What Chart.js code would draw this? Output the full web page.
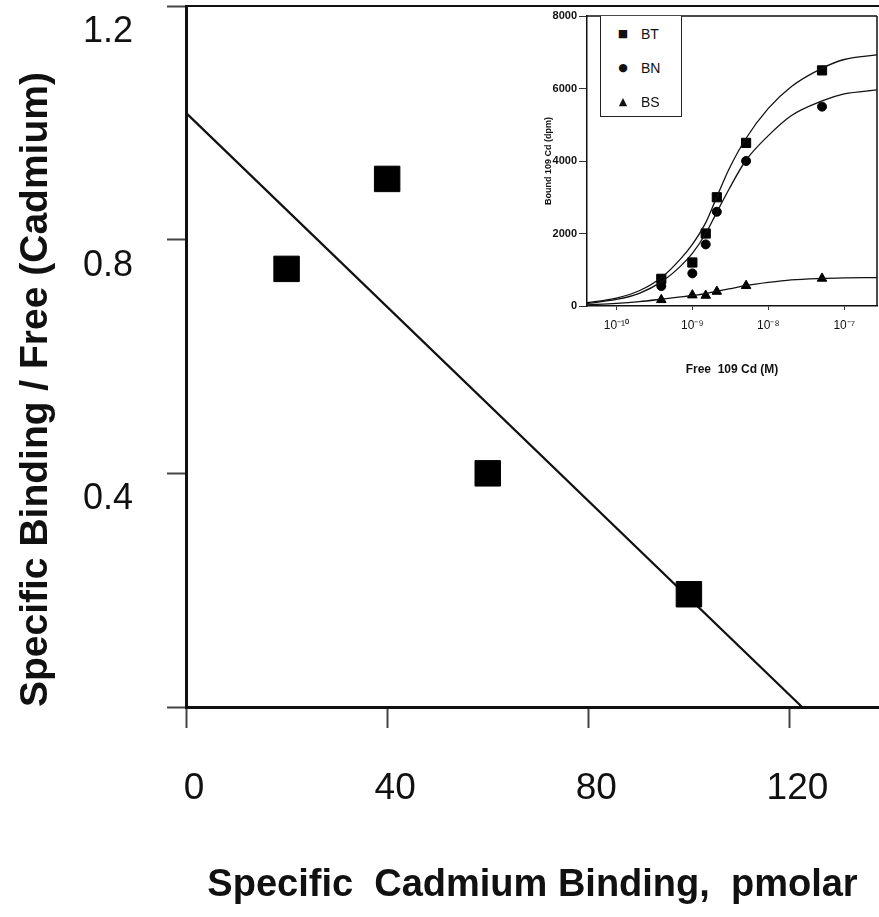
<!DOCTYPE html>
<html>
<head>
<meta charset="utf-8">
<title>Scatchard plot - cadmium binding</title>
<script src="https://cdn.jsdelivr.net/npm/chart.js@4/dist/chart.umd.min.js"></script>
<style>
    html, body { margin: 0; padding: 0; background: #fff; }
    #wrap { position: relative; width: 879px; height: 917px; overflow: hidden; }
    #mainChart { position: absolute; left: 0; top: 0; }
    #insetChart { position: absolute; left: 540px; top: 8px; }
    #insetLegend {
        position: absolute; left: 600px; top: 16px; width: 80px; height: 100px;
        border: 1px solid #222; border-top: none; background: #fff;
        font-family: 'Liberation Sans', Arial, sans-serif; font-size: 14px; color: #111;
    }
    .legend-row { position: absolute; left: 0; height: 34px; line-height: 34px; width: 80px; }
    .legend-mark { position: absolute; left: 14px; width: 16px; text-align: center; font-family: 'DejaVu Sans', sans-serif; font-size: 11px; }
    .legend-text { position: absolute; left: 40px; }
</style>
</head>
<body>
<div id="wrap">
    <canvas id="mainChart" width="879" height="917"></canvas>
    <canvas id="insetChart" width="339" height="372"></canvas>
    <div id="insetLegend"></div>
</div>
<script>
// main plot: bound/free vs bound
const bindingX = [20, 40, 60, 100];
const boundFreeY = [0.75, 0.904, 0.40, 0.193];
const fitLineX = [0, 122.5, 137.8];
const fitLineY = [1.017, 0, 0];
const mainTicksX = [0, 40, 80, 120];
const mainTicksY = [0, 0.4, 0.8, 1.2];

// inset: saturation curves
const insetSeries = ['BT', 'BN', 'BS'];
const insetMarks = ['■', '●', '▲'];
const freeCd = [3.9e-10, 1.0e-9, 1.5e-9, 2.1e-9, 5.1e-9, 5.1e-8];
const boundBT = [750, 1200, 2000, 3000, 4500, 6500];
const boundBN = [550, 900, 1700, 2600, 4000, 5500];
const boundBS = [170, 300, 290, 400, 560, 760];
const curveX = [4.1e-11, 1e-10, 2e-10, 4e-10, 7e-10, 1e-9, 1.5e-9, 2e-9, 3e-9, 5e-9, 1e-8, 2e-8, 5e-8, 1e-7, 2.7e-7];
const curveBT = [90, 220, 420, 800, 1300, 1700, 2300, 2900, 3750, 4600, 5450, 6050, 6550, 6800, 6930];
const curveBN = [70, 180, 350, 680, 1100, 1450, 2000, 2500, 3200, 4000, 4700, 5250, 5650, 5850, 5960];
const curveBS = [30, 70, 120, 190, 250, 290, 340, 400, 470, 560, 650, 720, 760, 775, 785];
const insetTicksX = [1e-10, 1e-9, 1e-8, 1e-7];
const insetTickLabels = ['10⁻¹⁰', '10⁻⁹', '10⁻⁸', '10⁻⁷'];
const insetTicksY = [0, 2000, 4000, 6000, 8000];

const FONT = "'Liberation Sans', Arial, sans-serif";
const INK = '#111';

function toPoints(xs, ys) {
    return xs.map((x, i) => ({ x: x, y: ys[i] }));
}

// draws the remaining sides of the plot frame
const frameLines = {
    id: 'frameLines',
    afterDatasetsDraw(chart, args, opts) {
        const { ctx, chartArea: a } = chart;
        ctx.save();
        ctx.strokeStyle = opts.color || INK;
        ctx.lineWidth = opts.width || 1;
        ctx.beginPath();
        if (opts.top) { ctx.moveTo(a.left, a.top); ctx.lineTo(a.right, a.top); }
        if (opts.right) { ctx.moveTo(a.right, a.top); ctx.lineTo(a.right, a.bottom); }
        ctx.stroke();
        ctx.restore();
    }
};

new Chart(document.getElementById('mainChart'), {
    type: 'scatter',
    data: {
        datasets: [{
            label: 'Bound / Free',
            data: toPoints(bindingX, boundFreeY),
            pointStyle: 'rect',
            pointRadius: 18,
            backgroundColor: '#000',
            borderColor: '#000',
            borderWidth: 1
        }, {
            label: 'Fit',
            data: toPoints(fitLineX, fitLineY),
            showLine: true,
            borderColor: INK,
            borderWidth: 2.2,
            pointRadius: 0,
            tension: 0
        }]
    },
    options: {
        responsive: false,
        animation: false,
        layout: { autoPadding: false, padding: { top: 6, right: 0, bottom: 0, left: 0 } },
        plugins: {
            legend: { display: false },
            tooltip: { enabled: false },
            frameLines: { top: true, width: 2, color: INK }
        },
        scales: {
            x: {
                type: 'linear',
                min: 0,
                max: 137.8,
                afterBuildTicks: s => { s.ticks = mainTicksX.map(v => ({ value: v })); },
                afterFit: s => { s.height = 210; s.paddingLeft = 0; s.paddingRight = 0; },
                grid: { drawOnChartArea: false, tickLength: 21, tickWidth: 2, tickColor: '#444' },
                border: { color: INK, width: 3 },
                ticks: { padding: 39, labelOffset: 8, color: INK, font: { family: FONT, size: 37 }, maxRotation: 0, autoSkip: false },
                title: {
                    display: true,
                    text: 'Specific  Cadmium Binding,  pmolar',
                    color: INK,
                    font: { family: FONT, size: 38, weight: 'bold' },
                    padding: { top: 0, bottom: 9 }
                }
            },
            y: {
                type: 'linear',
                min: 0,
                max: 1.2,
                afterBuildTicks: s => { s.ticks = mainTicksY.map(v => ({ value: v })); },
                afterFit: s => { s.width = 186; s.paddingTop = 0; s.paddingBottom = 0; },
                grid: { drawOnChartArea: false, tickLength: 19, tickWidth: 2, tickColor: '#444' },
                border: { color: INK, width: 3 },
                ticks: {
                    padding: 34,
                    labelOffset: 26,
                    color: INK,
                    font: { family: FONT, size: 36 },
                    callback: v => (v === 0 ? '' : v.toFixed(1))
                },
                title: {
                    display: true,
                    text: 'Specific Binding / Free (Cadmium)',
                    align: 'start',
                    color: INK,
                    font: { family: FONT, size: 39, weight: 'bold' },
                    padding: { top: 13, bottom: 0 }
                }
            }
        }
    },
    plugins: [frameLines]
});

const curveStyle = {
    showLine: true,
    pointRadius: 0,
    borderColor: INK,
    borderWidth: 1.3,
    cubicInterpolationMode: 'monotone'
};
const markStyle = {
    backgroundColor: '#000',
    borderColor: '#000',
    borderWidth: 1
};

new Chart(document.getElementById('insetChart'), {
    type: 'scatter',
    data: {
        datasets: [
            Object.assign({ label: 'BT fit', data: toPoints(curveX, curveBT) }, curveStyle),
            Object.assign({ label: 'BN fit', data: toPoints(curveX, curveBN) }, curveStyle),
            Object.assign({ label: 'BS fit', data: toPoints(curveX, curveBS) }, curveStyle),
            Object.assign({ label: 'BT', data: toPoints(freeCd, boundBT), pointStyle: 'rect', pointRadius: 6.5 }, markStyle),
            Object.assign({ label: 'BN', data: toPoints(freeCd, boundBN), pointStyle: 'circle', pointRadius: 4.5 }, markStyle),
            Object.assign({ label: 'BS', data: toPoints(freeCd, boundBS), pointStyle: 'triangle', pointRadius: 5.5 }, markStyle)
        ]
    },
    options: {
        responsive: false,
        animation: false,
        layout: { autoPadding: false, padding: { top: 8, right: 2, bottom: 0, left: 0 } },
        plugins: {
            legend: { display: false },
            tooltip: { enabled: false },
            frameLines: { top: true, right: true, width: 1.5, color: INK }
        },
        scales: {
            x: {
                type: 'logarithmic',
                min: 4.1e-11,
                max: 2.7e-7,
                afterBuildTicks: s => { s.ticks = insetTicksX.map(v => ({ value: v })); },
                afterFit: s => { s.height = 74; s.paddingLeft = 0; s.paddingRight = 0; },
                grid: { drawOnChartArea: false, tickLength: 4, tickWidth: 1, tickColor: '#333' },
                border: { color: INK, width: 1.5 },
                ticks: {
                    padding: 8,
                    color: INK,
                    font: { family: FONT, size: 12 },
                    maxRotation: 0,
                    autoSkip: false,
                    callback: (v, i) => insetTickLabels[i]
                },
                title: {
                    display: true,
                    text: 'Free  109 Cd (M)',
                    color: INK,
                    font: { family: FONT, size: 12, weight: 'bold' },
                    padding: { top: 0, bottom: 3 }
                }
            },
            y: {
                type: 'linear',
                min: 0,
                max: 8000,
                afterBuildTicks: s => { s.ticks = insetTicksY.map(v => ({ value: v })); },
                afterFit: s => { s.width = 47; s.paddingTop = 0; s.paddingBottom = 0; },
                grid: { drawOnChartArea: false, tickLength: 8, tickWidth: 1, tickColor: '#333' },
                border: { color: INK, width: 1.5 },
                ticks: { padding: 2, color: INK, font: { family: FONT, size: 11, weight: 'bold' }, callback: v => String(v) },
                title: {
                    display: true,
                    text: 'Bound 109 Cd (dpm)',
                    color: INK,
                    font: { family: FONT, size: 9, weight: 'bold' },
                    padding: { top: 3, bottom: 0 }
                }
            }
        }
    },
    plugins: [frameLines]
});

// legend box of the inset
const legendBox = document.getElementById('insetLegend');
insetSeries.forEach((name, i) => {
    legendBox.innerHTML += `
        <div class="legend-row" style="top:${1 + i * 34}px">
            <span class="legend-mark">${insetMarks[i]}</span>
            <span class="legend-text">${name}</span>
        </div>`;
});
</script>
</body>
</html>
